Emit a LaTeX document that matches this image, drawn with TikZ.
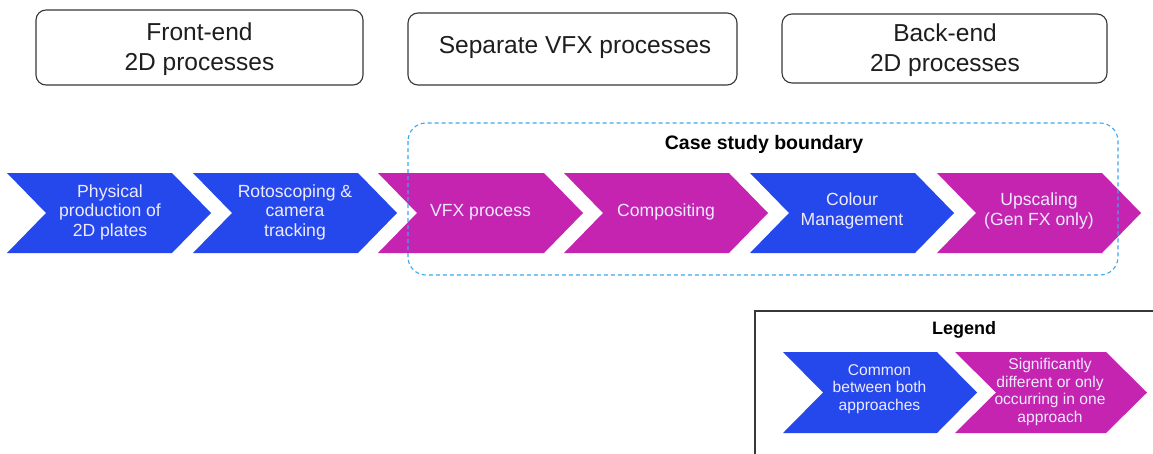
\documentclass[tikz,border=0pt]{standalone}
\usepackage{fontspec}
\setmainfont{Liberation Sans}

\definecolor{chevblue}{RGB}{36,72,236}
\definecolor{chevmag}{RGB}{197,36,176}
\definecolor{chevtext}{RGB}{238,234,255}
\definecolor{boundblue}{RGB}{58,168,240}
\definecolor{framegray}{RGB}{55,55,55}
\definecolor{inkgray}{RGB}{30,30,30}

% filled arrow band: left x, top y, width, height, point depth, colour
\newcommand\arrowband[6]{%
  \fill[#6] (#1,#2) -- ({#1+#3-#5},#2) -- ({#1+#3},{#2+#4/2})
    -- ({#1+#3-#5},{#2+#4}) -- (#1,{#2+#4}) -- ({#1+#5},{#2+#4/2}) -- cycle;}

\tikzset{
  phasebox/.style={draw=framegray, line width=1.1pt, rounded corners=10pt,
    fill=white, text=inkgray, align=center, inner sep=0pt,
    font=\fontsize{24.5}{30}\selectfont},
  steptext/.style={text=chevtext, align=center, inner sep=0pt,
    font=\fontsize{17.6}{19.5}\selectfont},
  keytext/.style={text=chevtext, align=center, inner sep=0pt,
    font=\fontsize{15.6}{17.5}\selectfont},
  headtext/.style={text=black, inner sep=0pt,
    font=\bfseries\fontsize{19.5}{22}\selectfont},
}

\begin{document}
\begin{tikzpicture}[x=1pt,y=-1pt]
\useasboundingbox (0,0) rectangle (1153,453);
\fill[white] (0,0) rectangle (1153,453);

% phase headings
\node[phasebox, minimum width=327pt, minimum height=75pt] (front) at (199.5,47.5) {};
\node[phasebox, minimum width=329pt, minimum height=72pt] (vfx) at (572.5,49) {};
\node[phasebox, minimum width=325pt, minimum height=69pt] (back) at (944.5,48.5) {};
\node[phasebox, draw=none, fill=none] (fronttext) at (199.5,49.5) {Front-end\\2D processes};
\node[phasebox, draw=none, fill=none] (vfxtext)   at (575,47)     {Separate VFX processes};
\node[phasebox, draw=none, fill=none] (backtext)  at (945,50.5)   {Back-end\\2D processes};

% process chain
\arrowband{7}{173}{204}{80}{39}{chevblue}
\arrowband{193}{173}{204}{80}{39}{chevblue}
\arrowband{378}{173}{205}{80}{39}{chevmag}
\arrowband{564}{173}{204}{80}{39}{chevmag}
\arrowband{750}{173}{204}{80}{39}{chevblue}
\arrowband{937}{173}{204}{80}{39}{chevmag}

\node[steptext] (plates)   at (110,212)   {Physical\\production of\\2D plates};
\node[steptext] (roto)     at (295,212)   {Rotoscoping \&\\camera\\tracking};
\node[steptext] (vfxstep)  at (480.5,212) {VFX process};
\node[steptext] (comp)     at (666,212)   {Compositing};
\node[steptext] (colour)   at (852,211)   {Colour\\Management};
\node[steptext] (upscale)  at (1039,211)  {Upscaling\\(Gen FX only)};

% case study boundary
\draw[boundblue, line width=1.1pt, dash pattern=on 4pt off 3pt,
  rounded corners=18pt] (408,123) rectangle (1118,275);
\node[headtext] (boundary) at (764,144) {Case study boundary};

% legend
\begin{scope}
  \clip (0,0) rectangle (1153,453);
  \draw[framegray, line width=1.2pt] (755,311) rectangle (1170,470);
\end{scope}
\node[headtext, font=\bfseries\fontsize{18}{22}\selectfont] (legend) at (964,330) {Legend};
\arrowband{783}{352}{194}{81}{40}{chevblue}
\arrowband{955}{352}{192}{81}{41}{chevmag}
\node[keytext] (common)  at (879.5,389) {Common\\between both\\approaches};
\node[keytext] (differs) at (1050,392)  {Significantly\\different or only\\occurring in one\\approach};
\end{tikzpicture}
\end{document}
